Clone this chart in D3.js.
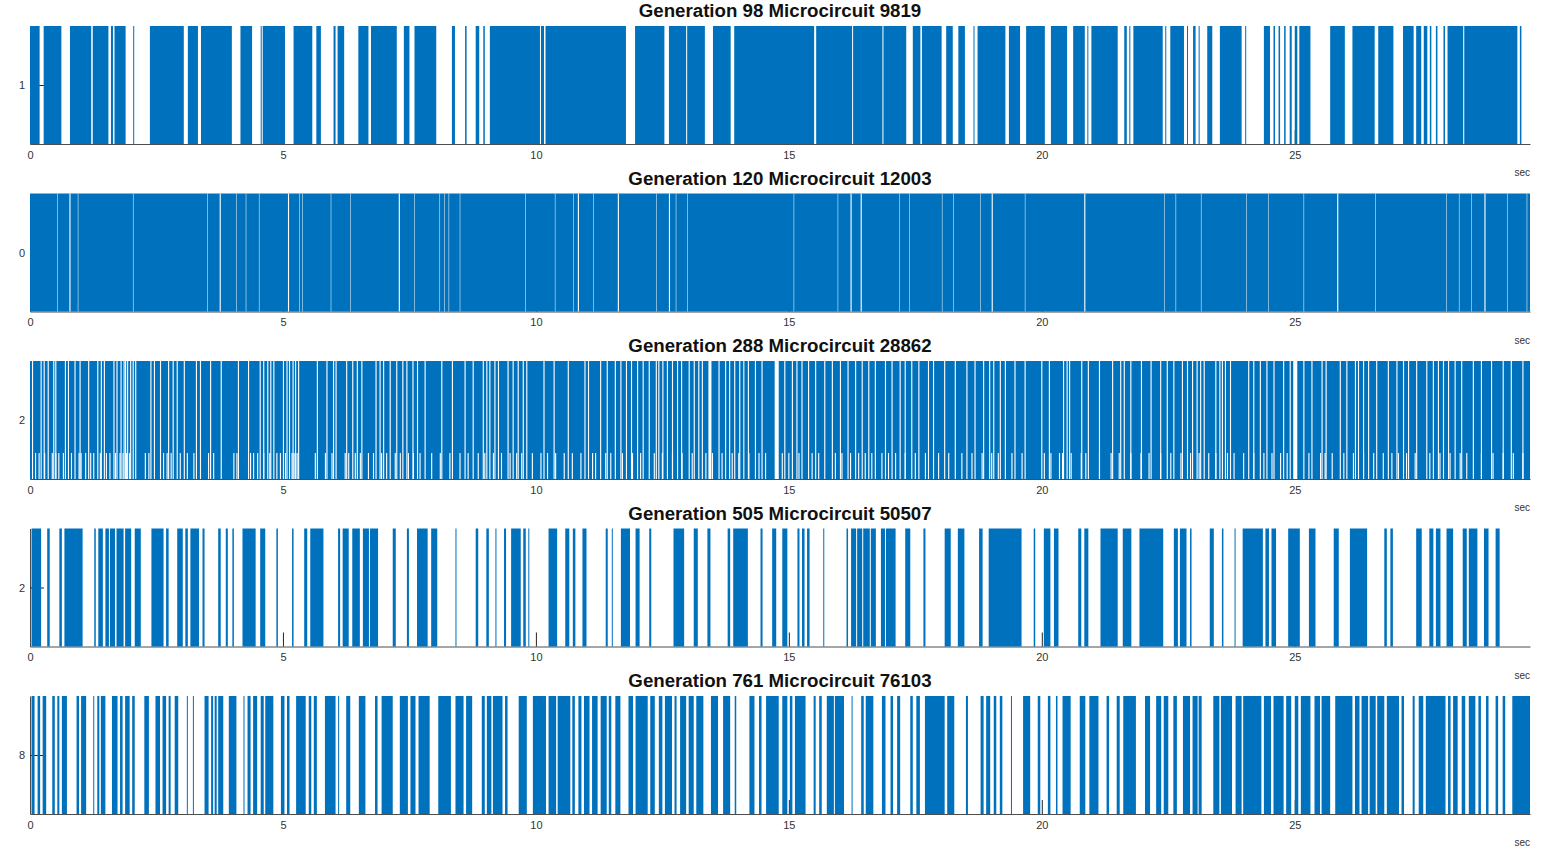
<!DOCTYPE html>
<html>
<head>
<meta charset="utf-8">
<script src="https://cdn.jsdelivr.net/npm/d3@7"></script>
<style>
  body { margin: 0; background: #fff; }
  text { font-family: "Liberation Sans", Arial, sans-serif; }
</style>
</head>
<body>
<script>

// ---- data (seconds) ----
const xMax = 29.65;
const xTicks = [0, 5, 10, 15, 20, 25];
const xLabel = "sec";

const panelTitles = [
  "Generation 98 Microcircuit 9819",
  "Generation 120 Microcircuit 12003",
  "Generation 288 Microcircuit 28862",
  "Generation 505 Microcircuit 50507",
  "Generation 761 Microcircuit 76103"
];
const neuronIds = [1, 0, 2, 2, 8];

// generation 98: firing intervals [start, end]
const gen98Runs = [
  [0.0,0.19],[0.27,0.62],[0.79,1.21],[1.24,1.55],[1.6,1.64],[1.67,1.89],[2.04,2.06],
  [2.37,3.04],[3.12,3.32],[3.38,3.99],[4.16,4.39],[4.56,4.58],[4.6,5.04],[5.21,5.58],
  [5.66,5.75],[6.0,6.04],[6.08,6.21],[6.49,6.69],[6.74,7.25],[7.39,7.5],[7.6,8.03],
  [8.34,8.4],[8.6,8.63],[8.81,8.88],[8.96,8.99],[9.09,10.08],[10.1,10.16],[10.19,11.78],
  [11.96,12.54],[12.63,12.97],[12.99,13.34],[13.5,13.85],[13.92,15.5],[15.54,16.25],
  [16.27,16.85],[16.87,17.32],[17.45,17.6],[17.63,18.02],[18.11,18.24],[18.35,18.48],
  [18.65,18.67],[18.73,19.28],[19.35,19.57],[19.69,20.06],[20.18,20.5],[20.62,20.85],
  [20.9,20.92],[20.98,21.5],[21.63,21.68],[21.73,21.75],[21.81,22.39],[22.44,22.46],
  [22.54,22.81],[22.87,22.89],[22.99,23.04],[23.1,23.12],[23.27,23.37],[23.52,23.95],
  [24.02,24.04],[24.39,24.51],[24.58,24.61],[24.68,24.71],[24.79,24.82],[24.9,24.94],
  [25.0,25.05],[25.09,25.31],[25.7,25.99],[26.14,26.58],[26.65,26.95],[27.14,27.35],
  [27.4,27.5],[27.55,27.62],[27.67,27.7],[27.79,27.82],[27.94,27.97],[28.02,28.33],
  [28.35,29.4],[29.45,29.48]
];

// generation 120: almost always firing, silent moments listed
const gen120Runs = [[0, 29.65]];
const gen120Gaps = [0.79, 3.76, 5.11, 7.30, 10.84, 11.63, 12.64, 16.23, 16.43, 19.02, 20.85, 25.85, 28.76];
const gen120FaintGaps = [
  0.54, 0.95, 2.04, 3.51, 4.08, 4.27, 4.53, 5.33, 5.39, 5.95, 6.34, 7.6, 8.1, 8.19, 8.28, 8.5,
  9.79, 10.38, 10.74, 11.14, 12.38, 12.77, 13.0, 15.1, 15.97, 17.19, 17.38, 18.03, 18.25,
  18.79, 19.67, 22.42, 22.65, 23.15, 24.05, 24.48, 25.18, 26.6, 28.0, 28.25, 28.49, 29.2, 29.59
];

// generation 288: dense firing, silent moments over full height and in the lower row only
const gen288Runs = [[0, 29.65]];
const gen288Gaps = [
  0.05,0.22,0.28,0.36,0.47,0.51,0.70,0.76,0.89,0.99,1.16,1.34,1.41,1.47,1.66,1.72,1.80,1.86,
  1.89,1.93,1.99,2.04,2.09,2.39,2.46,2.58,2.74,2.83,2.91,3.05,3.29,3.37,3.57,3.78,4.12,4.32,
  4.55,4.62,4.70,4.76,4.82,5.01,5.08,5.13,5.20,5.25,5.31,5.68,5.87,6.0,6.05,6.26,6.38,6.47,
  6.56,6.84,6.92,6.99,7.12,7.25,7.37,7.45,7.57,7.66,7.81,8.14,8.35,8.60,8.76,8.96,9.03,9.09,
  9.19,9.26,9.45,9.55,9.65,9.75,9.82,
  10.16,10.36,10.64,10.97,11.04,11.28,11.41,11.57,11.68,11.79,11.89,12.01,12.12,12.24,12.38,
  12.43,12.51,12.60,12.70,12.80,12.88,13.03,13.13,13.22,13.29,13.62,13.75,13.83,13.93,
  14.03,14.11,14.20,14.34,14.47,14.92,15.07,15.16,15.26,15.39,15.53,15.71,15.86,16.02,16.17,
  16.32,16.45,16.58,16.71,16.91,17.04,17.20,17.30,17.43,17.57,17.76,17.86,18.08,18.29,18.52,
  18.68,18.85,18.97,19.05,19.18,19.28,19.47,19.67,
  20.0,20.15,20.43,20.50,20.55,20.79,20.92,21.14,21.40,21.56,21.63,21.76,21.97,22.16,22.35,
  22.48,22.61,22.78,22.88,22.98,23.07,23.14,23.21,23.44,23.52,23.57,23.63,23.73,24.09,24.19,
  24.32,24.45,24.59,24.78,24.91,25.18,25.34,25.54,25.62,25.90,26.03,26.20,26.26,26.36,26.46,
  26.62,26.85,27.02,27.15,27.25,27.41,27.61,27.74,27.84,27.94,28.04,28.17,28.30,28.53,28.69,
  28.89,29.12,29.28,29.51
];
const gen288WideGaps = [[13.41,13.47],[14.72,14.80],[24.97,25.05]];
const gen288LowerTop = 1.72;
const gen288LowerGaps = [
  0.11,0.18,0.29,0.44,0.51,0.57,0.66,0.82,0.97,1.01,1.10,1.20,1.26,1.39,1.51,1.58,1.69,1.78,
  1.84,1.91,1.97,2.28,2.35,2.64,2.71,2.79,2.97,3.11,3.24,3.53,3.63,4.03,4.09,4.36,4.42,4.50,
  4.62,4.74,4.88,4.95,5.05,5.18,5.22,5.28,5.64,5.84,5.97,6.23,6.30,6.43,6.53,6.69,6.79,6.95,
  7.05,7.22,7.32,7.48,7.58,7.71,7.94,8.11,8.30,8.50,8.66,8.86,8.99,9.16,9.32,9.49,9.62,9.72,
  9.93,10.10,10.23,10.39,10.56,10.72,10.89,11.12,11.18,11.38,11.48,11.71,11.91,12.07,12.34,
  12.50,12.70,12.89,13.09,13.36,13.49,13.68,13.88,14.01,14.21,14.41,14.54,14.87,15.0,15.20,
  15.46,15.59,15.92,16.05,16.22,16.38,16.51,16.64,16.84,16.97,17.11,17.30,17.50,17.70,17.96,
  18.16,18.42,18.62,18.82,19.01,19.14,19.41,19.61,
  20.05,20.18,20.35,20.41,20.58,20.78,20.87,21.14,21.37,21.53,21.76,21.96,22.12,22.35,22.55,
  22.75,22.94,23.11,23.30,23.44,23.67,23.80,23.99,24.19,24.39,24.55,24.72,24.85,25.28,25.51,
  25.60,25.74,25.97,26.16,26.36,26.56,26.75,26.92,27.05,27.21,27.38,27.67,27.87,28.07,28.27,
  28.40,28.69,28.92,29.12,29.32,29.51
];

// generation 505: firing intervals
const gen505Runs = [
  [0.03,0.22],[0.34,0.39],[0.58,0.63],[0.68,1.04],[1.27,1.30],[1.35,1.44],[1.49,1.56],[1.58,1.68],
  [1.71,1.85],[1.88,2.0],[2.07,2.19],[2.40,2.64],[2.69,2.74],[2.91,3.02],[3.07,3.12],[3.17,3.34],
  [3.41,3.45],[3.72,3.77],[3.87,3.91],[4.0,4.03],[4.2,4.46],[4.55,4.65],[4.87,4.9],[5.18,5.21],
  [5.42,5.48],[5.54,5.8],[6.09,6.13],[6.18,6.3],[6.37,6.52],[6.58,6.7],[6.72,6.88],[7.17,7.23],
  [7.45,7.49],[7.65,7.86],[7.93,8.05],[8.41,8.43],[8.81,8.86],[9.02,9.07],[9.2,9.22],[9.37,9.41],
  [9.51,9.7],[9.75,9.8],[9.85,9.87],[10.25,10.42],[10.58,10.66],[10.73,10.78],[10.92,11.0],
  [11.38,11.42],[11.5,11.52],[11.68,11.86],[11.97,12.05],[12.24,12.28],[12.72,12.93],[13.12,13.2],
  [13.39,13.45],[13.79,13.84],[13.9,14.19],[14.44,14.48],[14.67,14.75],[14.87,14.97],[15.17,15.21],
  [15.26,15.31],[15.36,15.41],[15.68,15.7],[16.14,16.17],[16.23,16.33],[16.35,16.45],[16.47,16.6],
  [16.62,16.72],[16.82,16.9],[16.92,17.11],[17.3,17.4],[17.66,17.7],[18.08,18.2],[18.34,18.47],
  [18.76,18.83],[18.95,19.6],[19.84,19.87],[20.04,20.17],[20.24,20.33],[20.72,20.78],[20.84,20.92],
  [21.16,21.5],[21.6,21.77],[21.93,22.4],[22.61,22.69],[22.73,22.86],[22.93,22.96],[23.32,23.4],
  [23.56,23.59],[23.81,23.83],[23.97,24.37],[24.42,24.49],[24.54,24.63],[24.87,25.1],[25.28,25.41],
  [25.77,25.87],[26.09,26.43],[26.77,26.82],[26.89,26.94],[27.4,27.51],[27.66,27.74],[27.79,27.88],
  [28.0,28.13],[28.32,28.4],[28.44,28.61],[28.74,28.83],[28.97,29.05]
];

// generation 761: firing intervals
const gen761Runs = [
  [0.03,0.09],[0.15,0.2],[0.25,0.32],[0.44,0.49],[0.54,0.58],[0.63,0.73],[0.92,0.97],[1.01,1.11],
  [1.25,1.27],[1.33,1.37],[1.4,1.49],[1.62,1.73],[1.78,1.83],[1.88,1.97],[2.02,2.07],[2.26,2.35],
  [2.48,2.57],[2.62,2.69],[2.74,2.78],[2.86,2.93],[3.1,3.12],[3.22,3.24],[3.45,3.53],[3.58,3.62],
  [3.65,3.69],[3.72,3.82],[3.93,4.08],[4.22,4.24],[4.3,4.36],[4.41,4.49],[4.56,4.62],[4.65,4.81],
  [4.96,5.03],[5.08,5.13],[5.26,5.45],[5.51,5.56],[5.61,5.67],[5.83,6.04],[6.09,6.11],[6.25,6.33],
  [6.5,6.63],[6.82,6.87],[6.95,7.17],[7.31,7.47],[7.52,7.62],[7.68,7.9],[8.07,8.32],[8.41,8.57],
  [8.62,8.74],[8.93,8.99],[9.03,9.12],[9.15,9.34],[9.39,9.44],[9.66,9.82],[9.94,10.2],[10.25,10.4],
  [10.43,10.68],[10.72,10.77],[10.84,10.9],[10.95,11.06],[11.11,11.22],[11.28,11.4],[11.44,11.49],
  [11.57,11.67],[11.83,11.92],[11.97,12.21],[12.26,12.35],[12.43,12.5],[12.55,12.69],[12.74,12.78],
  [12.85,12.97],[13.02,13.12],[13.17,13.31],[13.46,13.6],[13.7,13.84],[13.93,13.96],[14.22,14.32],
  [14.41,14.46],[14.55,14.8],[14.87,14.97],[15.02,15.07],[15.12,15.33],[15.49,15.53],[15.6,15.65],
  [15.75,15.89],[15.91,16.09],[16.24,16.26],[16.43,16.48],[16.52,16.67],[16.84,16.91],[17.01,17.06],
  [17.14,17.2],[17.4,17.45],[17.52,17.59],[17.69,18.08],[18.13,18.27],[18.5,18.54],[18.79,18.85],
  [18.9,18.98],[19.05,19.1],[19.17,19.22],[19.39,19.41],[19.63,19.77],[19.92,19.97],[20.12,20.17],
  [20.28,20.31],[20.41,20.57],[20.75,20.86],[20.94,21.12],[21.28,21.33],[21.48,21.54],[21.61,21.86],
  [22.04,22.14],[22.26,22.36],[22.41,22.5],[22.6,22.67],[22.79,22.93],[22.98,23.08],[23.1,23.16],
  [23.39,23.51],[23.54,23.76],[23.83,23.95],[23.98,24.34],[24.39,24.53],[24.58,24.78],[24.83,24.93],
  [25.0,25.07],[25.12,25.31],[25.39,25.5],[25.53,25.7],[25.8,26.14],[26.19,26.28],[26.32,26.45],
  [26.48,26.6],[26.63,26.77],[26.82,27.06],[27.11,27.16],[27.33,27.37],[27.45,27.54],[27.59,27.98],
  [28.03,28.08],[28.13,28.22],[28.3,28.37],[28.44,28.57],[28.63,28.68],[28.78,28.83],[28.97,29.02],
  [29.11,29.16],[29.3,29.65]
];

// width of one silent sample, seconds
const gapWidth = 0.022;
const faintGapWidth = 0.01;

// ---- layout ----
const svgWidth = 1541;
const svgHeight = 850;
const margin = { left: 30, right: 11 };
const firstTop = 26;
const panelPitch = 167.5;
const panelHeight = 118;
const blue = "#0072BD";
const axisColor = "#262626";

const panels = [
  { runs: gen98Runs, gaps: [], faint: [], wide: [], lower: [] },
  { runs: gen120Runs, gaps: gen120Gaps, faint: gen120FaintGaps, wide: [], lower: [] },
  { runs: gen288Runs, gaps: gen288Gaps, faint: [], wide: gen288WideGaps, lower: gen288LowerGaps, lowerTop: gen288LowerTop },
  { runs: gen505Runs, gaps: [], faint: [], wide: [], lower: [] },
  { runs: gen761Runs, gaps: [], faint: [], wide: [], lower: [] }
].map((p, i) => Object.assign(p, { title: panelTitles[i], id: neuronIds[i] }));

const svg = d3.select("body")
  .append("svg")
  .attr("width", svgWidth)
  .attr("height", svgHeight)
  .style("background-color", "white");

const xScale = d3.scaleLinear()
  .domain([0, xMax])
  .range([margin.left, svgWidth - margin.right]);

panels.forEach((p, i) => drawPanel(p, i));

function drawPanel(p, i) {
  const top = firstTop + i * panelPitch;
  const bottom = top + panelHeight;

  const yScale = d3.scaleLinear()
    .domain([p.id - 0.5, p.id + 0.5])
    .range([bottom, top]);

  const g = svg.append("g");

  // axes sit under the data, like matlab's default layer
  const xAxis = g.append("g")
    .attr("transform", `translate(0,${bottom})`)
    .call(d3.axisBottom(xScale).tickValues(xTicks).tickSizeInner(-14).tickSizeOuter(0).tickPadding(7));

  const yAxis = g.append("g")
    .attr("transform", `translate(${margin.left},0)`)
    .call(d3.axisLeft(yScale).tickValues([p.id]).tickFormat(d3.format("d"))
      .tickSizeInner(-14).tickSizeOuter(0).tickPadding(5));

  [xAxis, yAxis].forEach(a => {
    a.select(".domain").attr("stroke", "#4d4d4d");
    a.selectAll(".tick line").attr("stroke", axisColor);
    a.selectAll(".tick text")
      .attr("fill", "#333")
      .style("font-size", "11px")
      .style("font-family", '"Liberation Sans", Arial, sans-serif');
  });

  const yTop = yScale(p.id + 0.5);
  const yBottom = yScale(p.id - 0.5);
  const dx = w => xScale(w) - xScale(0);

  g.append("g").selectAll("rect")
    .data(p.runs)
    .join("rect")
    .attr("x", d => xScale(d[0]))
    .attr("y", yTop)
    .attr("width", d => xScale(d[1]) - xScale(d[0]))
    .attr("height", yBottom - yTop)
    .attr("fill", blue);

  const white = g.append("g").attr("fill", "white");

  white.selectAll("rect.gap")
    .data(p.gaps)
    .join("rect")
    .attr("class", "gap")
    .attr("x", d => xScale(d - gapWidth / 2))
    .attr("y", yTop)
    .attr("width", dx(gapWidth))
    .attr("height", yBottom - yTop);

  white.selectAll("rect.faint")
    .data(p.faint)
    .join("rect")
    .attr("class", "faint")
    .attr("x", d => xScale(d - faintGapWidth / 2))
    .attr("y", yTop)
    .attr("width", dx(faintGapWidth))
    .attr("height", yBottom - yTop);

  white.selectAll("rect.wide")
    .data(p.wide)
    .join("rect")
    .attr("class", "wide")
    .attr("x", d => xScale(d[0]))
    .attr("y", yTop)
    .attr("width", d => xScale(d[1]) - xScale(d[0]))
    .attr("height", yBottom - yTop);

  if (p.lower.length) {
    const yLower = yScale(p.lowerTop);
    white.selectAll("rect.lower")
      .data(p.lower)
      .join("rect")
      .attr("class", "lower")
      .attr("x", d => xScale(d - gapWidth / 2))
      .attr("y", yLower)
      .attr("width", dx(gapWidth))
      .attr("height", yBottom - yLower);
  }

  // title
  g.append("text")
    .attr("x", (xScale(0) + xScale(xMax)) / 2)
    .attr("y", top - 9)
    .attr("text-anchor", "middle")
    .attr("fill", "#111")
    .style("font-size", "18.7px")
    .style("font-weight", "bold")
    .text(p.title);

  // x label in the corner
  g.append("text")
    .attr("x", xScale(xMax))
    .attr("y", bottom + 32)
    .attr("text-anchor", "end")
    .attr("fill", "#333")
    .style("font-size", "10px")
    .text(xLabel);
}

</script>
</body>
</html>
